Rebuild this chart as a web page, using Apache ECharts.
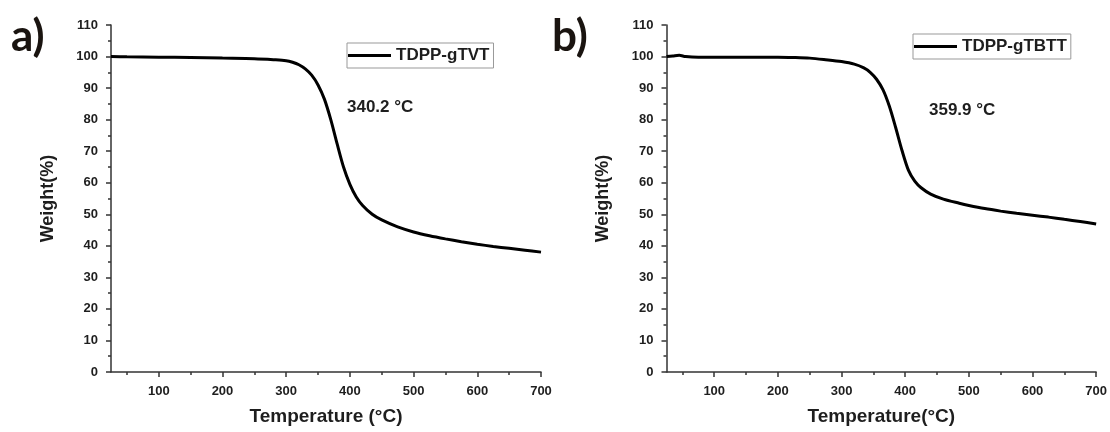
<!DOCTYPE html>
<html><head><meta charset="utf-8">
<script src="https://cdn.jsdelivr.net/npm/echarts@6/dist/echarts.min.js"></script>
<style>html,body{margin:0;padding:0;background:#fff}#c{width:1110px;height:432px}</style>
</head><body><div id="c"></div>
<script>
// ---- data ----
const seriesNames = ['TDPP-gTVT', 'TDPP-gTBTT'];
const tempA = [25,50,100,150,200,250,280,300,310,320,330,340,350,360,370,380,390,400,410,420,435,450,475,500,525,550,575,600,625,650,675,700];
const weightA = [100.0,99.9,99.8,99.7,99.5,99.3,99.0,98.7,98.2,97.4,96.1,94.1,91.0,86.5,80.0,72.3,65.0,59.5,55.5,52.8,50.0,48.2,46.0,44.4,43.2,42.2,41.3,40.5,39.8,39.2,38.6,38.0];
const tempB = [25,35,45,55,75,100,150,200,225,250,275,300,320,335,345,355,365,375,385,395,405,415,425,440,460,485,500,525,550,575,600,625,650,675,700];
const weightB = [100.0,100.2,100.4,100.0,99.8,99.8,99.8,99.8,99.7,99.5,99.0,98.4,97.6,96.4,95.0,92.8,89.5,84.3,77.5,70.2,64.0,60.5,58.4,56.4,54.8,53.5,52.8,51.8,51.0,50.3,49.7,49.1,48.4,47.7,46.9];
const xMajorTicks = [100,200,300,400,500,600,700];
const xMinorTicks = [50,150,250,350,450,550,650];
const annotations = ['340.2 °C', '359.9 °C'];
const panelLabels = ['a)', 'b)'];
const xTitles = ['Temperature (°C)', 'Temperature(°C)'];
const yTitle = 'Weight(%)';

// ---- chart ----
const FF = '"Liberation Sans", Arial, sans-serif';
const AX = '#333';
const TXT = '#1e1e1e';
const zip = (xs, ys) => xs.map((x, i) => [x, ys[i]]);
const grids = [
  {left: 111, top: 25, width: 430, height: 347},
  {left: 666.5, top: 25, width: 430, height: 347}
];
const xAxes = [], yAxes = [];
[0, 1].forEach(i => {
  xAxes.push({
    type: 'value', gridIndex: i, min: 25, max: 700, position: 'bottom',
    axisLine: {show: true, onZero: false, lineStyle: {color: AX, width: 1.5}},
    axisTick: {show: true, customValues: xMajorTicks, length: 5, lineStyle: {color: AX, width: 1.5}},
    axisLabel: {customValues: xMajorTicks, margin: 13, fontSize: 13, fontWeight: 'bold', color: TXT, fontFamily: FF},
    splitLine: {show: false},
    name: xTitles[i], nameLocation: 'middle', nameGap: 35,
    nameTextStyle: {fontSize: 19, fontWeight: 'bold', color: TXT, fontFamily: FF}
  });
  xAxes.push({
    type: 'value', gridIndex: i, min: 25, max: 700, position: 'bottom',
    axisLine: {show: false, onZero: false},
    axisTick: {show: true, customValues: xMinorTicks, length: 3, lineStyle: {color: AX, width: 1.5}},
    axisLabel: {show: false}, splitLine: {show: false}
  });
  yAxes.push({
    type: 'value', gridIndex: i, min: 0, max: 110, interval: 10,
    axisLine: {show: true, onZero: false, lineStyle: {color: AX, width: 1.5}},
    axisTick: {show: true, length: 5, lineStyle: {color: AX, width: 1.5}},
    minorTick: {show: true, splitNumber: 2, length: 3, lineStyle: {color: AX, width: 1.5}},
    axisLabel: {margin: 13, fontSize: 13, fontWeight: 'bold', color: TXT, fontFamily: FF},
    splitLine: {show: false}, minorSplitLine: {show: false},
    name: yTitle, nameLocation: 'middle', nameGap: 54, nameRotate: 90,
    nameTextStyle: {fontSize: 18, fontWeight: 'bold', color: TXT, fontFamily: FF}
  });
});
const dataSets = [zip(tempA, weightA), zip(tempB, weightB)];
const series = [0, 1].map(i => ({
  type: 'line', name: seriesNames[i], xAxisIndex: i * 2, yAxisIndex: i,
  data: dataSets[i], symbol: 'none', showSymbol: false, smooth: 0.3,
  lineStyle: {color: '#000', width: 3}, itemStyle: {color: '#000'}, silent: true
}));
const legendPos = [{left: 347, top: 43}, {left: 913, top: 34}];
const legends = [0, 1].map(i => ({
  data: [{name: seriesNames[i], icon: 'rect'}], left: legendPos[i].left, top: legendPos[i].top,
  itemWidth: 43, itemHeight: 3, itemGap: 0, padding: [4, 4, 4, 1],
  borderColor: '#999', borderWidth: 1, selectedMode: false,
  itemStyle: {color: '#000'},
  textStyle: {fontSize: 17, fontWeight: 'bold', color: TXT, fontFamily: FF}
}));
const annPos = [{left: 347, top: 99}, {left: 929, top: 102}];
const labelPos = [{left: 11, top: 15}, {left: 552, top: 15}];
const graphics = [];
[0, 1].forEach(i => {
  graphics.push({type: 'text', left: annPos[i].left, top: annPos[i].top,
    style: {text: annotations[i], font: 'bold 17px ' + FF, fill: TXT}});
  graphics.push({type: 'text', left: labelPos[i].left, top: labelPos[i].top,
    style: {text: panelLabels[i], font: 'bold 44px Lato, "Open Sans", sans-serif', fill: '#1a1410'}});
});
const chart = echarts.init(document.getElementById('c'), null, {renderer: 'canvas'});
chart.setOption({
  animation: false, backgroundColor: '#fff',
  grid: grids, xAxis: xAxes, yAxis: yAxes, series, legend: legends, graphic: graphics
});
</script></body></html>
